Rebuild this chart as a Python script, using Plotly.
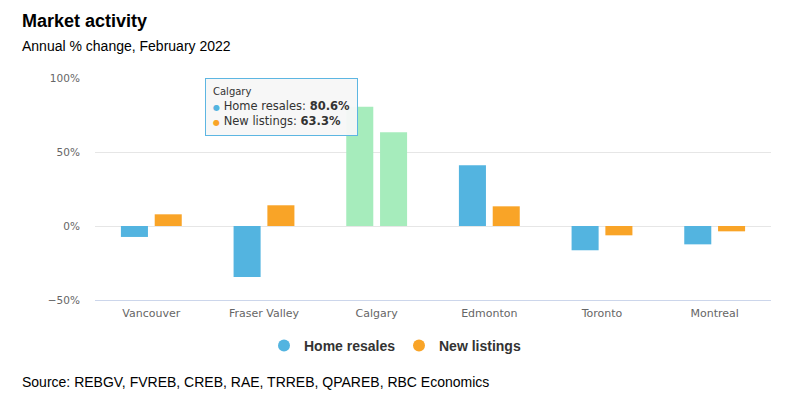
import plotly.graph_objects as go

categories = ["Vancouver", "Fraser Valley", "Calgary", "Edmonton", "Toronto", "Montreal"]
home_resales = [-7.4, -34.4, 80.6, 41.0, -16.4, -12.4]
new_listings = [7.9, 14.0, 63.3, 13.3, -6.3, -3.6]
y_ticks = [-50, 0, 50, 100]
y_tick_labels = ["−50%", "0%", "50%", "100%"]

BLUE = "#53b4e0"
ORANGE = "#f9a427"
GREEN = "#a6ecbc"
hover_cat = "Calgary"

W, H = 786, 397
ML, MR, MT, MB = 95, 15, 78, 97
pw = W - ML - MR
ph = H - MT - MB

def px(x):
    return (x - ML) / pw

def py(y):
    return (H - MB - y) / ph

res_colors = [GREEN if c == hover_cat else BLUE for c in categories]
lst_colors = [GREEN if c == hover_cat else ORANGE for c in categories]

fig = go.Figure()
fig.add_trace(go.Bar(x=categories, y=home_resales, name="Home resales",
                     marker=dict(color=res_colors, line=dict(width=0)), showlegend=False))
fig.add_trace(go.Bar(x=categories, y=new_listings, name="New listings",
                     marker=dict(color=lst_colors, line=dict(width=0)), showlegend=False))
# legend entries with circle symbols
fig.add_trace(go.Scatter(x=[None], y=[None], mode="markers", name="Home resales",
                         marker=dict(color=BLUE, size=14, symbol="circle")))
fig.add_trace(go.Scatter(x=[None], y=[None], mode="markers", name="New listings",
                         marker=dict(color=ORANGE, size=14, symbol="circle")))

hi = categories.index(hover_cat)
tip = (f"<span style='font-size:10px'>{hover_cat}</span><br>"
       f"<span style='color:{BLUE};font-size:8px'>●</span> Home resales: <b>{home_resales[hi]}%</b><br>"
       f"<span style='color:{ORANGE};font-size:8px'>●</span> New listings: <b>{new_listings[hi]}%</b>")

annotations = [
    dict(text="<b>Market activity</b>", x=px(20), y=py(21), xref="paper", yref="paper",
         xanchor="left", yanchor="middle", showarrow=False,
         font=dict(family="Liberation Sans, Arial", size=18, color="#000")),
    dict(text="Annual % change, February 2022", x=px(20), y=py(46), xref="paper", yref="paper",
         xanchor="left", yanchor="middle", showarrow=False,
         font=dict(family="Liberation Sans, Arial", size=14, color="#000")),
    dict(text="Source: REBGV, FVREB, CREB, RAE, TRREB, QPAREB, RBC Economics",
         x=px(20), y=py(382), xref="paper", yref="paper",
         xanchor="left", yanchor="middle", showarrow=False,
         font=dict(family="Liberation Sans, Arial", size=14, color="#000")),
    dict(text=tip, x=px(205), y=py(78), xref="paper", yref="paper",
         xanchor="left", yanchor="top", showarrow=False, align="left",
         bgcolor="rgba(247,247,247,0.95)", bordercolor="#5db6e2", borderwidth=1, borderpad=7,
         font=dict(family="DejaVu Sans", size=11.5, color="#333")),
]

fig.update_layout(
    width=W, height=H,
    margin=dict(l=ML, r=MR, t=MT, b=MB),
    paper_bgcolor="white", plot_bgcolor="white",
    barmode="group", bargap=0.4, bargroupgap=0.2,
    showlegend=True,
    legend=dict(orientation="h", x=px(264), xanchor="left", y=py(346), yanchor="middle",
                font=dict(family="Liberation Sans, Arial", size=14, color="#333", weight="bold"),
                entrywidth=90, entrywidthmode="pixels",
                itemsizing="constant", bgcolor="rgba(0,0,0,0)"),
    annotations=annotations,
    xaxis=dict(showgrid=False, showline=True, linecolor="#ccd6eb", linewidth=1,
               tickfont=dict(family="DejaVu Sans", size=11, color="#666"),
               ticks="outside", ticklen=3, tickcolor="rgba(0,0,0,0)", fixedrange=True),
    yaxis=dict(range=[-50, 100], tickvals=y_ticks, ticktext=y_tick_labels,
               showgrid=True, gridcolor="#e6e6e6", gridwidth=1,
               zeroline=True, zerolinecolor="#e6e6e6", zerolinewidth=1,
               showline=False,
               tickfont=dict(family="DejaVu Sans", size=10.5, color="#666"),
               ticks="outside", ticklen=12, tickcolor="rgba(0,0,0,0)"),
    hovermode=False,
)

fig.write_html("out.html", config={"displayModeBar": False},
               post_script="document.body.style.margin='0px';")
